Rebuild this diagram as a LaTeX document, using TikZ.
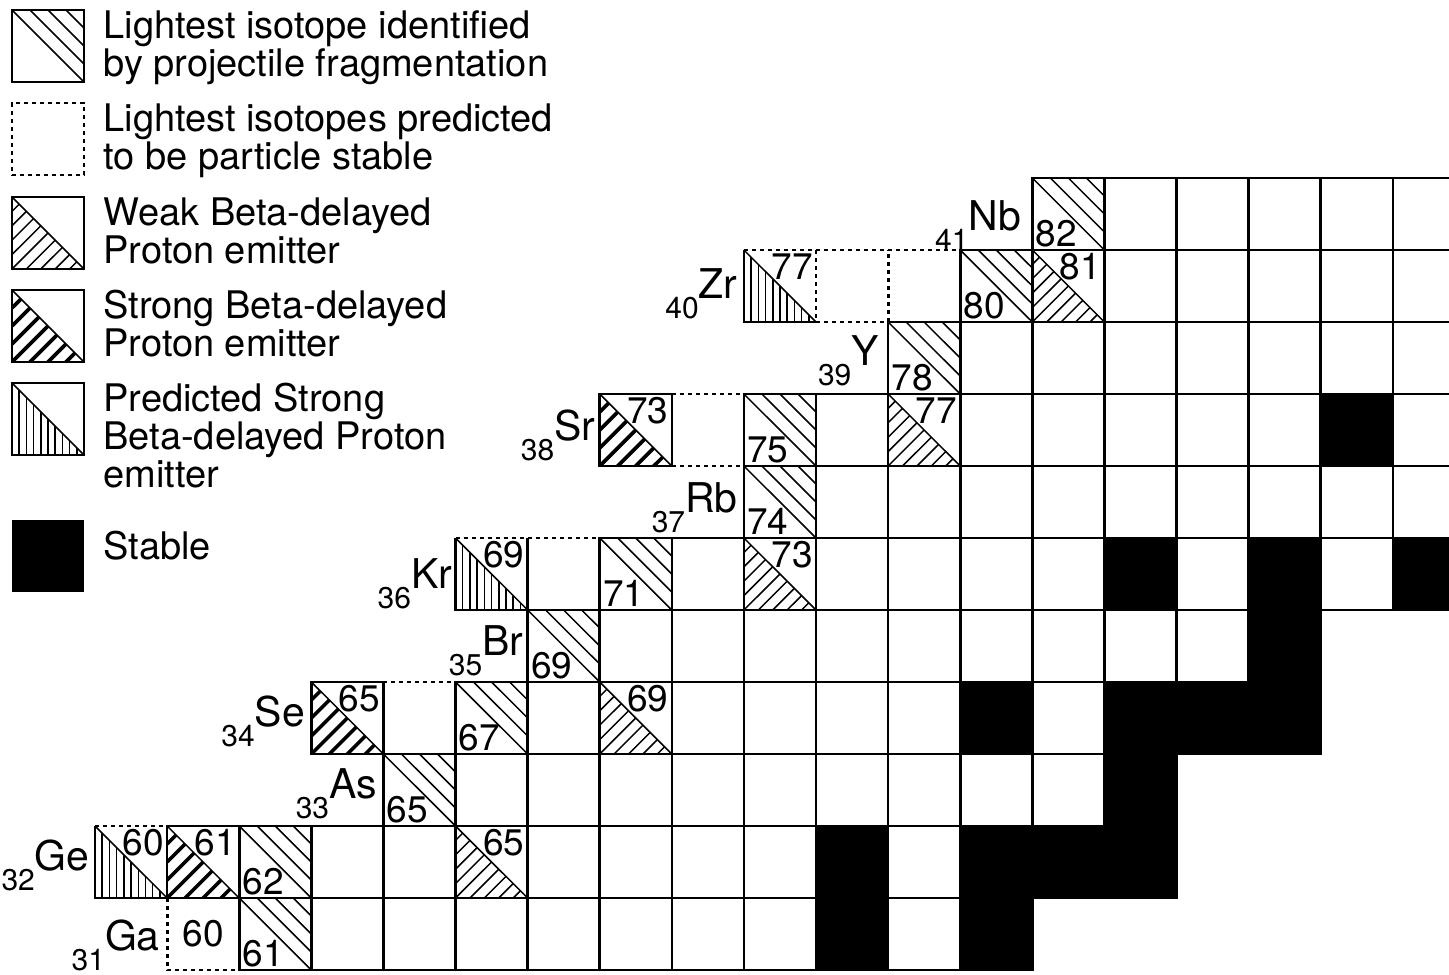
\documentclass[tikz,border=0pt]{standalone}
\usepackage{fontspec}
\setmainfont{TeX Gyre Heros}
\usetikzlibrary{positioning, calc}
\newcommand{\zsub}[1]{\raisebox{-10pt}{\fontsize{15}{15}\selectfont #1}}
\newcommand{\corners}{\path (path picture bounding box.north west) coordinate (pnw)
	(path picture bounding box.north east) coordinate (pne)
	(path picture bounding box.south west) coordinate (psw)
	(path picture bounding box.south east) coordinate (pse);}

\begin{document}
\begin{tikzpicture}[x=0.5pt, y=-0.5pt,
		gridline/.style={line width=1.3pt},
		dotline/.style={line width=1.4pt, dash pattern=on 2pt off 2pt},
		hatch/.style={line width=0.75pt},
		bold hatch/.style={line width=1.8pt},
		cell/.style={rectangle, minimum width=36.05pt, minimum height=36pt, inner sep=0pt, outer sep=0pt},
		ident/.style={cell, draw, gridline, path picture={\corners
				\foreach \t in {0,0.25,0.5,0.75}
					\draw[hatch] ($(pnw)!\t!(pne)$) -- ($(pse)!\t!(pne)$);}},
		weak/.style={cell, draw, gridline, path picture={\corners
				\draw[hatch] (pnw) -- (pse);
				\clip (pnw) -- (psw) -- (pse) -- cycle;
				\foreach \k in {1,...,9}
					\draw[hatch] ($(pnw)!\k/5!(psw)$) -- ($(pnw)!\k/5!(pne)$);}},
		strong/.style={cell, draw, gridline, path picture={\corners
				\draw[hatch] (pnw) -- (pse);
				\clip (pnw) -- (psw) -- (pse) -- cycle;
				\foreach \k in {1,...,7}
					\draw[bold hatch] ($(pnw)!\k/4!(psw)$) -- ($(pnw)!\k/4!(pne)$);}},
		predicted/.style={cell, path picture={\corners
				\draw[hatch] (pnw) -- (pse);
				\foreach \k in {1,...,9}
					\draw[hatch] ($(pnw)!\k/10!(pse)$) -- ($(psw)!\k/10!(pse)$);}},
		opencell/.style={cell},
		stable/.style={cell, fill=black},
		mass/.style={font=\fontsize{18.5}{18.5}\selectfont, inner sep=1.5pt},
		elem/.style={font=\fontsize{20.5}{20.5}\selectfont, inner sep=0pt, anchor=base east},
		legend/.style={font=\fontsize{19}{19}\selectfont, align=left, inner sep=0pt}
		]
		\useasboundingbox (0,0) rectangle (1449,974);
		\fill[white] (0,0) rectangle (1449,974);
		\clip (0,0) rectangle (1449,974);
		
		\node [ident] (key ident) at (48,46) {};
		\node [opencell, draw, dotline] (key open) at (48,139) {};
		\node [weak] (key weak) at (48,233) {};
		\node [strong] (key strong) at (48,326) {};
		\node [predicted, draw, gridline] (key predicted) at (48,419) {};
		\node [stable] (key stable) at (48,556) {};
		\node [legend, right=9.5pt of key ident.north east, anchor=north west] (text ident) {Lightest isotope identified\\by projectile fragmentation};
		\node [legend, right=9.5pt of key open.north east, anchor=north west] (text open) {Lightest isotopes predicted\\to be particle stable};
		\node [legend, right=9.5pt of key weak.north east, anchor=north west] (text weak) {Weak Beta-delayed\\Proton emitter};
		\node [legend, right=9.5pt of key strong.north east, anchor=north west] (text strong) {Strong Beta-delayed\\Proton emitter};
		\node [legend, right=9.5pt of key predicted.north east, anchor=north west] (text predicted) {Predicted Strong\\Beta-delayed Proton\\emitter};
		\node [legend, right=9.5pt of key stable, yshift=5pt] (text stable) {Stable};
		
		\begin{scope}[shift={(95,178)}, x=36.05pt, y=-36pt]
			\foreach \z/\a/\b in {41/41/46, 40/40/46, 39/39/46, 38/37/46, 37/37/46, 36/35/46, 35/34/44, 34/33/44, 33/32/42, 32/29/42, 31/30/40}
				\foreach \n in {\a,...,\b}
					\draw[gridline] (\n-28,41-\z) rectangle ++(1,1);
			\foreach \z/\n in {31/38, 31/40, 32/38, 32/40, 32/41, 32/42, 33/42, 34/40, 34/42, 34/43, 34/44, 35/44, 36/42, 36/44, 36/46, 38/45}
				\fill (\n-28,41-\z) rectangle ++(1,1);
			
			\node [predicted] (ge60) at (0.5,9.5) [label={[mass, anchor=north east]north east:60}] {};
			\node [strong] (ge61) at (1.5,9.5) [label={[mass, anchor=north east]north east:61}] {};
			\node [ident] (ge62) at (2.5,9.5) [label={[mass, anchor=south west]south west:62}] {};
			\node [weak] (ge65) at (5.5,9.5) [label={[mass, anchor=north east]north east:65}] {};
			\node [opencell, mass] (ga60) at (1.5,10.5) {60};
			\node [ident] (ga61) at (2.5,10.5) [label={[mass, anchor=south west]south west:61}] {};
			\node [ident] (as65) at (4.5,8.5) [label={[mass, anchor=south west]south west:65}] {};
			\node [strong] (se65) at (3.5,7.5) [label={[mass, anchor=north east]north east:65}] {};
			\node [opencell] (se66) at (4.5,7.5) {};
			\node [ident] (se67) at (5.5,7.5) [label={[mass, anchor=south west]south west:67}] {};
			\node [weak] (se69) at (7.5,7.5) [label={[mass, anchor=north east]north east:69}] {};
			\node [ident] (br69) at (6.5,6.5) [label={[mass, anchor=south west]south west:69}] {};
			\node [predicted] (kr69) at (5.5,5.5) [label={[mass, anchor=north east]north east:69}] {};
			\node [opencell] (kr70) at (6.5,5.5) {};
			\node [ident] (kr71) at (7.5,5.5) [label={[mass, anchor=south west]south west:71}] {};
			\node [weak] (kr73) at (9.5,5.5) [label={[mass, anchor=north east]north east:73}] {};
			\node [ident] (rb74) at (9.5,4.5) [label={[mass, anchor=south west]south west:74}] {};
			\node [strong] (sr73) at (7.5,3.5) [label={[mass, anchor=north east]north east:73}] {};
			\node [opencell] (sr74) at (8.5,3.5) {};
			\node [ident] (sr75) at (9.5,3.5) [label={[mass, anchor=south west]south west:75}] {};
			\node [weak] (sr77) at (11.5,3.5) [label={[mass, anchor=north east]north east:77}] {};
			\node [ident] (y78) at (11.5,2.5) [label={[mass, anchor=south west]south west:78}] {};
			\node [predicted] (zr77) at (9.5,1.5) [label={[mass, anchor=north east]north east:77}] {};
			\node [opencell] (zr78) at (10.5,1.5) {};
			\node [opencell] (zr79) at (11.5,1.5) {};
			\node [ident] (zr80) at (12.5,1.5) [label={[mass, anchor=south west]south west:80}] {};
			\node [weak] (zr81) at (13.5,1.5) [label={[mass, anchor=north east]north east:81}] {};
			\node [ident] (nb82) at (13.5,0.5) [label={[mass, anchor=south west]south west:82}] {};
			
			\draw [gridline] (ge60.north west) -- (ge60.south west) -- (ge60.south east) -- (ge60.north east);
			\draw [gridline] (kr69.north west) -- (kr69.south west) -- (kr69.south east) -- (kr69.north east);
			\draw [gridline] (zr77.north west) -- (zr77.south west) -- (zr77.south east);
			\draw [dotline] (ge60.north west) -- (ge60.north east);
			\draw [dotline] (ga60.north west) -- (ga60.south west) -- (ga60.south east);
			\draw [dotline] (se66.north west) -- (se66.north east);
			\draw [dotline] (kr69.north west) -- (kr70.north east);
			\draw [dotline] (sr74.north west) -- (sr74.north east) (sr74.south west) -- (sr74.south east);
			\draw [dotline] (zr77.north west) -- (zr79.north east);
			\draw [dotline] (zr77.north east) -- (zr77.south east) -- (zr78.south east) -- (zr78.north east);
			
			\node [elem] (ga) at ([xshift=-3.5pt, yshift=-8pt]ga60.west) {\zsub{31}Ga};
			\node [elem] (ge) at ([xshift=-2.5pt, yshift=-4pt]ge60.west) {\zsub{32}Ge};
			\node [elem] (as) at ([xshift=-3pt, yshift=-4pt]as65.west) {\zsub{33}As};
			\node [elem] (se) at ([xshift=-3pt, yshift=-4pt]se65.west) {\zsub{34}Se};
			\node [elem] (br) at ([xshift=-2pt, yshift=-4.5pt]br69.west) {\zsub{35}Br};
			\node [elem] (kr) at ([xshift=-1.5pt, yshift=-7pt]kr69.west) {\zsub{36}Kr};
			\node [elem] (rb) at ([xshift=-3pt, yshift=-5pt]rb74.west) {\zsub{37}Rb};
			\node [elem] (sr) at ([xshift=-2pt, yshift=-5pt]sr73.west) {\zsub{38}Sr};
			\node [elem] (y) at ([xshift=-4.5pt, yshift=-3.5pt]y78.west) {\zsub{39}Y};
			\node [elem] (zr) at ([xshift=-3pt, yshift=-6pt]zr77.west) {\zsub{40}Zr};
			\node [elem] (nb) at ([xshift=-5.5pt, yshift=-8pt]nb82.west) {\zsub{41}Nb};
		\end{scope}
	\end{tikzpicture}
\end{document}
